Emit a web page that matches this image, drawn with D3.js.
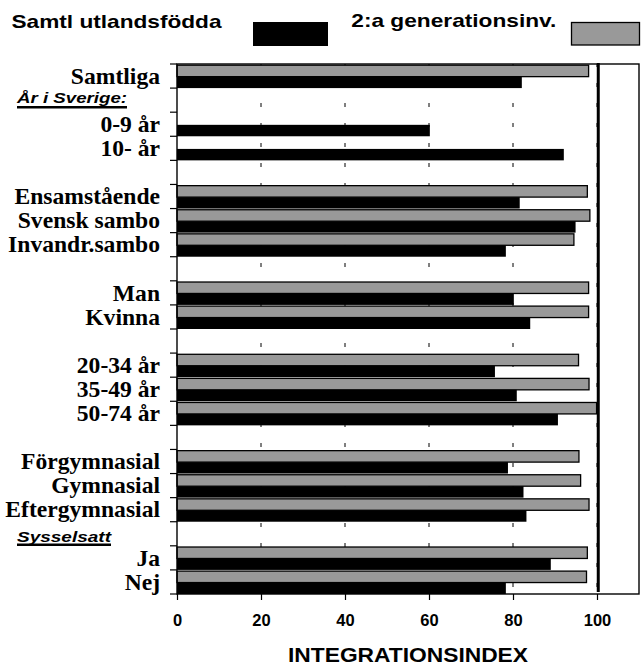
<!DOCTYPE html>
<html>
<head>
<meta charset="utf-8">
<script src="https://cdn.jsdelivr.net/npm/d3@7"></script>
<style>
  body { margin: 0; background: #fff; }
  svg { display: block; }
</style>
</head>
<body>
<script>
// rows of the chart, blanks get unique keys
const categories = ['Samtliga', 'hdrAr', '0-9 år', '10- år', 'blank1', 'Ensamstående', 'Svensk sambo', 'Invandr.sambo', 'blank2',
    'Man', 'Kvinna', 'blank3', '20-34 år', '35-49 år', '50-74 år', 'blank4', 'Förgymnasial', 'Gymnasial', 'Eftergymnasial',
    'hdrSyss', 'Ja', 'Nej'];
const headings = { hdrAr: 'År i Sverige:', hdrSyss: 'Sysselsatt' };

const utlandsfodda = [82.1, null, 60.2, 92.1, null, 81.6, 94.9, 78.3, null, 80.2, 84.1, null, 75.7, 80.9, 90.7, null, 78.8, 82.5, 83.2, null, 89.0, 78.3];
const andraGen = [98.0, null, null, null, null, 97.7, 98.3, 94.5, null, 98.0, 98.0, null, 95.6, 98.1, 99.9, null, 95.7, 96.1, 98.1, null, 97.7, 97.5];

const xTicks = [0, 20, 40, 60, 80, 100];
const refValue = 100.3;
const seriesNames = ['Samtl utlandsfödda', '2:a generationsinv.'];

const width = 642;
const height = 664;
const margin = { top: 64, right: 3, bottom: 70, left: 177 };

const svg = d3.select('body').append('svg')
    .attr('width', width)
    .attr('height', height);

const x = d3.scaleLinear()
    .domain([0, 110])
    .range([margin.left, width - margin.right]);

const y = d3.scaleBand()
    .domain(categories)
    .range([margin.top, height - margin.bottom])
    .padding(0);

const bw = y.bandwidth();
const sub = d3.scaleBand()
    .domain(['gen2', 'utl'])
    .range([1.2, bw]);

// dashed grid
svg.append('g')
    .selectAll('line')
    .data(xTicks.slice(1))
    .join('line')
    .attr('x1', d => x(d))
    .attr('x2', d => x(d))
    .attr('y1', y.range()[0])
    .attr('y2', y.range()[1])
    .attr('stroke', '#000')
    .attr('stroke-width', 1)
    .attr('stroke-dasharray', '4,16')
    .attr('stroke-dashoffset', -39);

// bars
const rows = categories.map((c, i) => ({ key: c, utl: utlandsfodda[i], gen2: andraGen[i] }));

svg.append('g')
    .selectAll('rect')
    .data(rows.filter(d => d.gen2 != null))
    .join('rect')
    .attr('x', x(0))
    .attr('y', d => y(d.key) + sub('gen2'))
    .attr('width', d => x(d.gen2) - x(0))
    .attr('height', sub.bandwidth())
    .attr('fill', '#999999')
    .attr('stroke', '#000')
    .attr('stroke-width', 1.3);

svg.append('g')
    .selectAll('rect')
    .data(rows.filter(d => d.utl != null))
    .join('rect')
    .attr('x', x(0))
    .attr('y', d => y(d.key) + sub('utl'))
    .attr('width', d => x(d.utl) - x(0))
    .attr('height', sub.bandwidth())
    .attr('fill', '#000');

// reference line at 100
svg.append('line')
    .attr('x1', x(refValue))
    .attr('x2', x(refValue))
    .attr('y1', y.range()[0] - 1)
    .attr('y2', y.range()[1] - 2)
    .attr('stroke', '#000')
    .attr('stroke-width', 3);

// plot frame
svg.append('rect')
    .attr('x', x(0))
    .attr('y', y.range()[0])
    .attr('width', x(110) - x(0))
    .attr('height', y.range()[1] - y.range()[0])
    .attr('fill', 'none')
    .attr('stroke', '#000')
    .attr('stroke-width', 1.4);

// y boundary ticks
const bounds = categories.map(c => y(c)).concat([y.range()[1]]);
svg.append('g')
    .selectAll('line')
    .data(bounds)
    .join('line')
    .attr('x1', x(0) - 7)
    .attr('x2', x(0))
    .attr('y1', d => d)
    .attr('y2', d => d)
    .attr('stroke', '#000')
    .attr('stroke-width', 1.2);

// y labels
const yAxis = svg.append('g')
    .attr('transform', `translate(${x(0)},0)`)
    .call(d3.axisLeft(y).tickSize(0).tickPadding(17)
        .tickFormat(d => (d.startsWith('blank') || headings[d]) ? '' : d));
yAxis.select('.domain').remove();
yAxis.selectAll('text')
    .attr('font-family', '"Liberation Serif", "Times New Roman", serif')
    .attr('font-weight', 'bold')
    .attr('font-size', 23.6)
    .attr('fill', '#000')
    .attr('dy', '0.33em');

// section headings
const hdr = [
    { key: 'hdrAr', base: 14.6, len: 110, ul: 19.2 },
    { key: 'hdrSyss', base: 20, len: 94, ul: 23 }
];
hdr.forEach(h => {
    svg.append('text')
        .attr('x', 17)
        .attr('y', y(h.key) + h.base)
        .attr('font-family', '"Liberation Sans", Arial, sans-serif')
        .attr('font-weight', 'bold')
        .attr('font-style', 'italic')
        .attr('font-size', 15)
        .attr('textLength', h.len)
        .attr('lengthAdjust', 'spacingAndGlyphs')
        .text(headings[h.key]);
    svg.append('line')
        .attr('x1', 17)
        .attr('x2', 17 + h.len)
        .attr('y1', y(h.key) + h.ul)
        .attr('y2', y(h.key) + h.ul)
        .attr('stroke', '#000')
        .attr('stroke-width', 2.4);
});

// x axis
const xAxis = svg.append('g')
    .attr('transform', `translate(0,${y.range()[1]})`)
    .call(d3.axisBottom(x).tickValues(xTicks).tickSize(6).tickPadding(14).tickFormat(d3.format('d')));
xAxis.select('.domain').remove();
xAxis.selectAll('line').attr('stroke', '#000').attr('stroke-width', 1.2);
xAxis.selectAll('text')
    .attr('font-family', '"Liberation Sans", Arial, sans-serif')
    .attr('font-weight', 'bold')
    .attr('font-size', 16.5)
    .attr('fill', '#000');

svg.append('text')
    .attr('x', (x(0) + x(110)) / 2)
    .attr('y', 661.5)
    .attr('text-anchor', 'middle')
    .attr('font-family', '"Liberation Sans", Arial, sans-serif')
    .attr('font-weight', 'bold')
    .attr('font-size', 21)
    .attr('textLength', 240)
    .attr('lengthAdjust', 'spacingAndGlyphs')
    .text('INTEGRATIONSINDEX');

// legend
const legendFont = sel => sel
    .attr('font-family', '"Liberation Sans", Arial, sans-serif')
    .attr('font-weight', 'bold')
    .attr('font-size', 18.5)
    .attr('lengthAdjust', 'spacingAndGlyphs');

svg.append('text').call(legendFont)
    .attr('x', 11.5).attr('y', 28.3)
    .attr('textLength', 210)
    .text(seriesNames[0]);
svg.append('rect')
    .attr('x', 253).attr('y', 22).attr('width', 75).attr('height', 24)
    .attr('fill', '#000');

svg.append('text').call(legendFont)
    .attr('x', 351.3).attr('y', 27.3)
    .attr('textLength', 205)
    .text(seriesNames[1]);
svg.append('rect')
    .attr('x', 571.5).attr('y', 22.5).attr('width', 68).attr('height', 22.5)
    .attr('fill', '#999999')
    .attr('stroke', '#000')
    .attr('stroke-width', 1.3);
</script>
</body>
</html>
